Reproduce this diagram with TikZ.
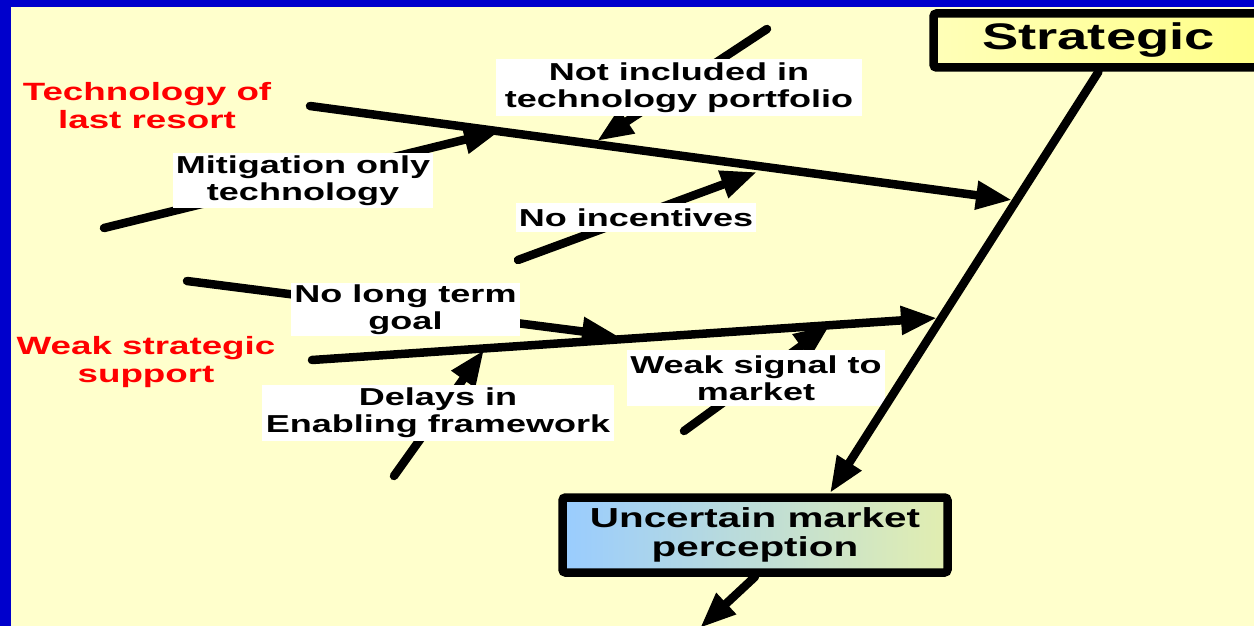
\documentclass[tikz,border=0pt]{standalone}
\usepackage{fontspec}
\newfontfamily\lab[FakeStretch=1.47]{Liberation Sans}
\usetikzlibrary{arrows.meta}
\definecolor{bg}{HTML}{FFFFCC}
\definecolor{framecol}{HTML}{0000CC}
\definecolor{redtxt}{HTML}{FF0000}
\definecolor{stratL}{HTML}{FFFFB8}
\definecolor{stratR}{HTML}{FFFF88}
\definecolor{uncL}{HTML}{99CCFF}
\definecolor{uncR}{HTML}{E2EEB0}
\begin{document}
\begin{tikzpicture}[x=1pt,y=-1pt,
  bone/.style={line width=8.5pt, line cap=round, -{Triangle[length=36pt,width=27pt]}},
  labelbox/.style={fill=white, inner sep=0pt, align=center, font=\lab\bfseries\fontsize{24.5}{27}\selectfont},
  redlabel/.style={text=redtxt, inner sep=0pt, align=center, font=\lab\bfseries\fontsize{25}{28}\selectfont},
  bigbox/.style={draw=black, line width=8.5pt, rounded corners=3pt, inner sep=0pt, align=center}]
\useasboundingbox (0,0) rectangle (1254,626);
\fill[bg] (0,0) rectangle (1254,626);
\fill[framecol] (0,0) rectangle (11,626);
\fill[framecol] (0,0) rectangle (1254,7);

% bone end points
\coordinate (b1s) at (310,106);  \coordinate (b1e) at (1012,200);
\coordinate (b2s) at (104,228);  \coordinate (b2e) at (500,131);
\coordinate (b3s) at (767,29);   \coordinate (b3e) at (597,141);
\coordinate (b4s) at (518,260);  \coordinate (b4e) at (757,172);
\coordinate (b5s) at (312,360);  \coordinate (b5e) at (937,318);
\coordinate (b6s) at (187,281);  \coordinate (b6e) at (618,336);
\coordinate (b7s) at (394,476);  \coordinate (b7e) at (484,350);
\coordinate (b8s) at (684,431);  \coordinate (b8e) at (830,325);
\coordinate (spE) at (830,493);
\coordinate (outE) at (700,628);

\draw[bone] (b1s) -- (b1e);
\draw[bone] (b2s) -- (b2e);
\draw[bone] (b3s) -- (b3e);
\draw[bone] (b4s) -- (b4e);
\draw[bone] (b5s) -- (b5e);
\draw[bone] (b6s) -- (b6e);
\draw[bone] (b7s) -- (b7e);
\draw[bone] (b8s) -- (b8e);

% labels
\node[labelbox, minimum width=260pt, minimum height=55pt] (mit) at (303,180.5) {Mitigation only\\technology};
\node[labelbox, minimum width=366pt, minimum height=57pt] (notinc) at (679,87.5) {Not included in\\technology portfolio};
\node[labelbox, minimum width=240pt, minimum height=29pt] (noinc) at (636,217.5) {No incentives};
\node[labelbox, minimum width=229pt, minimum height=53pt] (nolong) at (405.5,309.5) {No long term\\goal};
\node[labelbox, minimum width=352pt, minimum height=56pt] (delays) at (438,413) {Delays in\\Enabling framework};
\node[labelbox, minimum width=258pt, minimum height=56pt] (weaksig) at (756,378) {Weak signal to\\market};

\node[redlabel] (lastresort) at (147,106) {Technology of\\last resort};
\node[redlabel] (weakstrat) at (146,362.5) {Weak strategic\\support};

% head boxes
\node[bigbox, left color=stratL, right color=stratR, minimum width=330pt, minimum height=54pt,
      font=\lab\bfseries\fontsize{37}{40}\selectfont] (strat) at (1098.5,40.5) {Strategic};
\node[bigbox, left color=uncL, right color=uncR, minimum width=385pt, minimum height=75pt,
      font=\lab\bfseries\fontsize{27.5}{29}\selectfont] (unc) at (755,535) {Uncertain market\\perception};

\draw[bone] (strat.south) -- (spE);
\draw[bone] (unc.south) -- (outE);
\end{tikzpicture}
\end{document}
